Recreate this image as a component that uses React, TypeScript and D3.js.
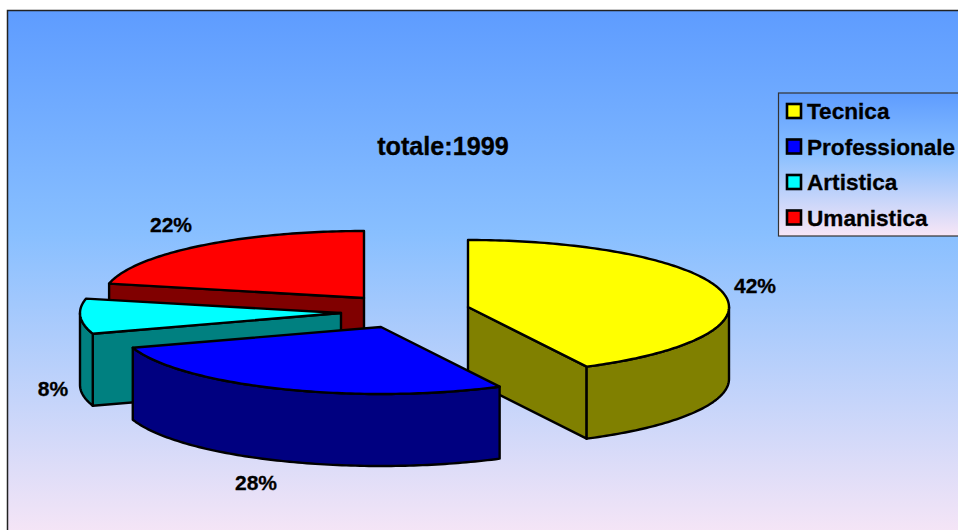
import React from "react";
import * as d3 from "d3";

// Data
const categories = ["Tecnica", "Professionale", "Artistica", "Umanistica"];
const shares = [42.49, 27.51, 8.45, 21.55];
const chartTitle = "totale:1999";

// Colours
const topColors = ["#ffff00", "#0000ff", "#00ffff", "#ff0000"];
const sideColors = ["#808000", "#000080", "#008080", "#800000"];

// Layout
const width = 958;
const height = 530;
const rx = 261;
const ry = 67;
const depth = 72;
const sliceCenters = [
  [468, 307],
  [381, 327],
  [341, 313],
  [364, 298],
];
const labelAnchors = [
  [755, 293],
  [256, 490],
  [53, 396],
  [171, 232],
];
const drawOrder = [3, 2, 0, 1];

const pieLayout = d3
  .pie<number>()
  .sort(null)
  .value((d) => d);
const slices = pieLayout(shares);
const total = d3.sum(shares);
const percent = d3.format(".0%");
const line = d3.line();

const rim = (cx: number, cy: number, a: number): [number, number] => [
  cx + rx * Math.sin(a),
  cy - ry * Math.cos(a),
];

const arcPoints = (cx: number, cy: number, a0: number, a1: number) => {
  const steps = Math.max(2, Math.ceil(((a1 - a0) * 180) / Math.PI));
  return d3.range(steps + 1).map((i) => rim(cx, cy, a0 + ((a1 - a0) * i) / steps));
};

const Slice = ({ index }: { index: number }) => {
  const { startAngle, endAngle } = slices[index];
  const [cx, cy] = sliceCenters[index];
  const side = sideColors[index];

  // cut faces only show when they look toward the viewer
  const faces: number[] = [];
  if (startAngle > Math.PI) faces.push(startAngle);
  if (endAngle < Math.PI) faces.push(endAngle);

  // outer wall is the part of the rim on the front half
  const w0 = Math.max(startAngle, Math.PI / 2);
  const w1 = Math.min(endAngle, (3 * Math.PI) / 2);
  const wallTop = w1 > w0 ? arcPoints(cx, cy, w0, w1) : [];
  const wallBottom = wallTop
    .map(([x, y]) => [x, y + depth] as [number, number])
    .reverse();

  const top = [[cx, cy] as [number, number], ...arcPoints(cx, cy, startAngle, endAngle)];

  return (
    <g stroke="#000" strokeWidth={2.4} strokeLinejoin="round">
      {faces.map((a) => {
        const [x, y] = rim(cx, cy, a);
        return (
          <path
            key={a}
            fill={side}
            d={
              line([
                [cx, cy],
                [x, y],
                [x, y + depth],
                [cx, cy + depth],
              ]) + "Z"
            }
          />
        );
      })}
      {wallTop.length > 0 && (
        <path fill={side} d={line([...wallTop, ...wallBottom]) + "Z"} />
      )}
      <path fill={topColors[index]} d={line(top) + "Z"} />
    </g>
  );
};

const App = () => {
  const font = "'Liberation Sans', Arial, sans-serif";
  return (
    <svg
      width={width}
      height={height}
      style={{ position: "absolute", left: 0, top: 0 }}
      fontFamily={font}
      fontWeight="bold"
    >
      <defs>
        <linearGradient id="bg" x1="0" y1="0" x2="0" y2="1">
          <stop offset="0" stopColor="#5e9cff" />
          <stop offset="0.42" stopColor="#88bfff" />
          <stop offset="1" stopColor="#f8e6f6" />
        </linearGradient>
      </defs>
      <rect x={0} y={0} width={width} height={height} fill="#fff" />
      <rect x={7.5} y={10.5} width={width + 10} height={height} fill="url(#bg)" stroke="#222" strokeWidth={1.5} />

      <text x={443} y={155} textAnchor="middle" fontSize={25.2} fill="#000" stroke="#000" strokeWidth={0.3}>
        {chartTitle}
      </text>

      {drawOrder.map((i) => (
        <Slice key={categories[i]} index={i} />
      ))}

      {slices.map((s, i) => (
        <text
          key={categories[i]}
          x={labelAnchors[i][0]}
          y={labelAnchors[i][1]}
          textAnchor="middle"
          fontSize={21}
          fill="#000"
          stroke="#000"
          strokeWidth={0.3}
        >
          {percent(s.value / total)}
        </text>
      ))}

      <g>
        <rect x={778.5} y={93} width={190} height={143} fill="url(#bg)" stroke="#333" strokeWidth={1.2} />
        {categories.map((c, i) => (
          <g key={c} transform={`translate(0,${35.5 * i})`}>
            <rect x={787} y={104} width={14} height={14} fill={topColors[i]} stroke="#000" strokeWidth={2.6} />
            <text x={807} y={119} fontSize={22.6} fill="#000" stroke="#000" strokeWidth={0.3}>
              {c}
            </text>
          </g>
        ))}
      </g>
    </svg>
  );
};

export default App;
